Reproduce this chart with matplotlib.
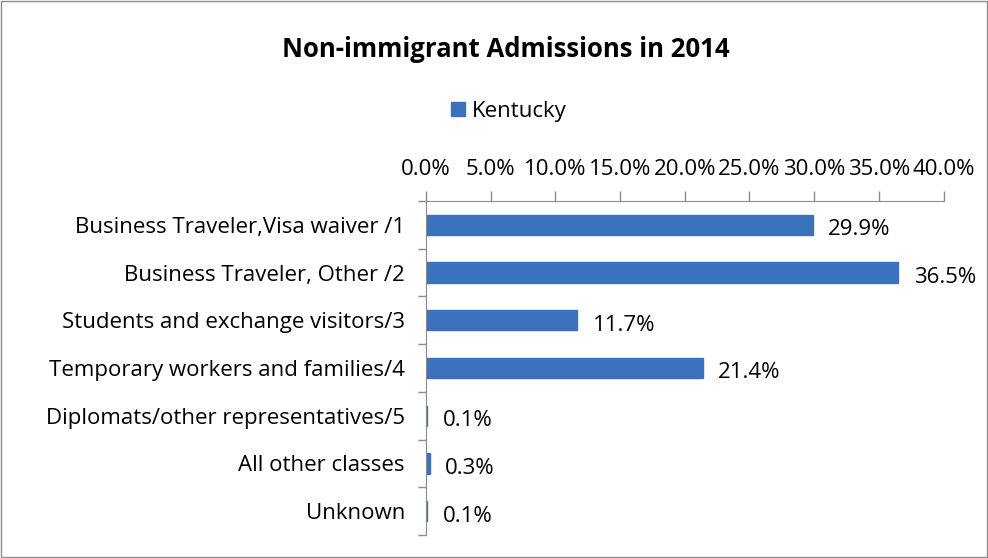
import numpy as np
import matplotlib.pyplot as plt
from matplotlib.ticker import FuncFormatter

categories = ['Business Traveler,Visa waiver /1', 'Business Traveler, Other /2',
              'Students and exchange visitors/3', 'Temporary workers and families/4',
              'Diplomats/other representatives/5', 'All other classes', 'Unknown']
values = [29.9, 36.5, 11.7, 21.4, 0.1, 0.3, 0.1]
x_ticks = [0, 5, 10, 15, 20, 25, 30, 35, 40]

plt.rcParams['font.family'] = ['Open Sans', 'DejaVu Sans']
bar_color = '#3C71BD'
fs = 16

fig = plt.figure(figsize=(9.88, 5.58), dpi=100)
fig.patches.append(plt.Rectangle((0.001, 0.001), 0.998, 0.998, transform=fig.transFigure,
                                 fill=False, edgecolor='#8c8c8c', linewidth=1))
ax = fig.add_axes([0.431, 0.041, 0.524, 0.599])

y = np.arange(len(categories))
ax.barh(y, values, height=0.42, color=bar_color, edgecolor=bar_color, linewidth=1,
        label='Kentucky')
for yi, v in zip(y, values):
    ax.text(v + 1.2, yi + 0.1, '%.1f%%' % v, va='center', ha='left', fontsize=fs)

ax.set_xlim(0, 40)
ax.set_ylim(len(categories) - 0.5, -0.5)
ax.set_xticks(x_ticks)
ax.xaxis.set_major_formatter(FuncFormatter(lambda v, p: '%.1f%%' % v))
ax.xaxis.tick_top()
ax.tick_params(axis='x', length=7, width=1, color='#8c8c8c', labelsize=fs, pad=8)

ax.set_yticks(y)
ax.set_yticklabels(categories, fontsize=fs)
ax.set_yticks(np.arange(len(categories) + 1) - 0.5, minor=True)
ax.tick_params(axis='y', which='major', length=0, pad=15)
ax.tick_params(axis='y', which='minor', length=6, width=1, color='#8c8c8c')

for s in ['right', 'bottom']:
    ax.spines[s].set_visible(False)
for s in ['top', 'left']:
    ax.spines[s].set_color('#8c8c8c')

fig.text(0.512, 0.912, 'Non-immigrant Admissions in 2014', ha='center', va='center',
         fontsize=18.5, fontweight='bold')
fig.legend(loc='center', bbox_to_anchor=(0.515, 0.8), frameon=False, fontsize=fs,
           handlelength=0.6, handleheight=0.6, handletextpad=0.3)

fig.savefig('out.png', dpi=100)
